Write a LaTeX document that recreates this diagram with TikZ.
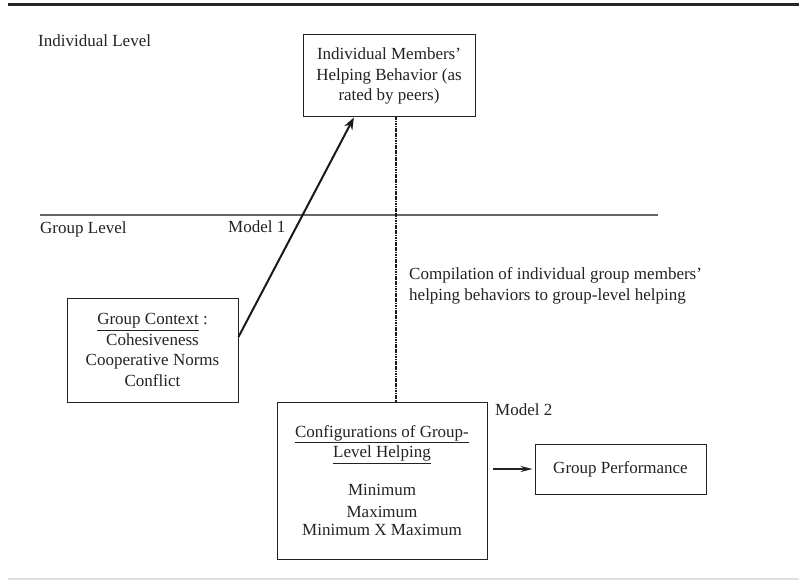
\documentclass[tikz,border=0pt]{standalone}
\usepackage{fontspec}
\setmainfont{Liberation Serif}
\usetikzlibrary{arrows.meta,calc}
\definecolor{ink}{HTML}{222222}
\begin{document}
\begin{tikzpicture}[x=1pt,y=-1pt,
  every node/.style={font=\fontsize{17}{20.5}\selectfont, text=ink},
  boxnode/.style={draw=ink, line width=1pt, align=center, inner sep=0pt},
  lbl/.style={inner sep=0pt, anchor=west},
  conn/.style={draw=black!90, line width=2pt},
  dotline/.style={draw=black!90, line width=1.8pt, dash pattern=on 1.2pt off 0.5pt}]
\useasboundingbox (0,0) rectangle (799,580);
% frame lines
\coordinate (tl) at (8,5);
\coordinate (tr) at (799,5);
\draw[line width=3pt, draw=black!85] (tl) -- (tr);
\coordinate (bl) at (8,579);
\coordinate (br) at (799,579);
\draw[line width=1.5pt, draw=black!12] (bl) -- (br);
\coordinate (gl) at (40,215);
\coordinate (gr) at (658,215);
\draw[line width=1.2pt, draw=black!60] (gl) -- (gr);
% labels
\node[lbl] (indlev) at (38,41) {Individual Level};
\node[lbl] (grplev) at (40,229) {Group Level};
\node[lbl] (m1) at (228,227) {Model 1};
\node[lbl] (m2) at (495,410) {Model 2};
\node[lbl, align=left] (comp) at (409,286) {Compilation of individual group members'\\helping behaviors to group-level helping};
% boxes
\node[boxnode, minimum width=172pt, minimum height=82pt] (ind) at (389,76)
  {Individual Members'\\Helping Behavior (as\\rated by peers)};
\node[boxnode, minimum width=171pt, minimum height=104pt] (gc) at (152.5,350)
  {\underline{Group Context} :\\Cohesiveness\\Cooperative Norms\\Conflict};
\node[boxnode, minimum width=210pt, minimum height=157pt] (cfg) at (382,480.5)
  {\underline{Configurations of Group-}\\\underline{Level Helping}\\[17pt]Minimum\\[2pt]Maximum\\[-3pt]Minimum X Maximum};
\node[boxnode, minimum width=171pt, minimum height=50pt] (gp) at (620.5,469)
  {Group Performance};
% connectors
\coordinate (dotx) at (396,0);
\draw[dotline] (ind.south -| dotx) -- (cfg.north -| dotx);
\draw[conn, -{Stealth[length=12pt, width=9pt]}]
  ($(gc.north east)!0.375!(gc.south east)$) -- ($(ind.south west)!0.297!(ind.south east)$);
\draw[draw=ink, line width=1.2pt, -{Stealth[length=12pt, width=6pt]}]
  ($(cfg.east |- gp.west)+(5,0)$) -- ($(gp.west)+(-2,0)$);
\end{tikzpicture}
\end{document}
